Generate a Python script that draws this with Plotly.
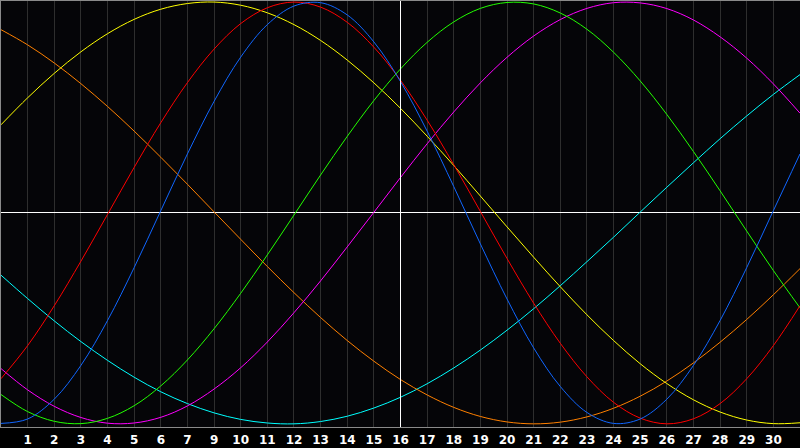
import plotly.graph_objects as go

days = list(range(0, 31))

# tick positions (day index) and their labels (note: original skips "8")
tick_days = list(range(1, 30))
tick_labels = ["1", "2", "3", "4", "5", "6", "7", "9", "10", "11", "12", "13", "14", "15",
               "16", "17", "18", "19", "20", "21", "22", "23", "24", "25", "26", "27", "28",
               "29", "30"]

# values in percent, one per day
cyan = [-29.5, -40.6, -51.2, -61.0, -69.9, -77.9, -84.8, -90.4, -94.8, -97.9, -99.6,
        -100.0, -98.9, -96.4, -92.5, -87.4, -81.0, -73.5, -65.0, -55.6, -45.4, -34.5,
        -23.1, -11.5, 0.4, 12.2, 23.8, 35.2, 46.0, 56.2, 65.6]
orange = [86.9, 79.7, 71.1, 61.3, 50.5, 38.8, 26.4, 13.6, 0.5, -12.5, -25.4, -37.8,
          -49.6, -60.5, -70.3, -79.0, -86.3, -92.2, -96.5, -99.1, -100.0, -99.2, -96.7,
          -92.6, -86.9, -79.7, -71.1, -61.3, -50.5, -38.8, -26.4]
magenta = [-73.8, -83.9, -91.7, -97.0, -99.7, -99.6, -96.9, -91.5, -83.5, -73.4, -61.2,
           -47.3, -32.2, -16.1, 0.3, 16.8, 32.8, 47.9, 61.7, 73.8, 83.9, 91.7, 97.0, 99.7,
           99.6, 96.9, 91.5, 83.5, 73.4, 61.2, 47.3]
yellow = [41.8, 54.6, 66.2, 76.4, 85.0, 91.8, 96.6, 99.3, 100.0, 98.5, 94.9, 89.3, 81.8,
          72.5, 61.7, 49.6, 36.4, 22.5, 8.0, -6.6, -21.0, -35.0, -48.3, -60.5, -71.5,
          -80.9, -88.6, -94.4, -98.2, -99.9, -99.5]
green = [-86.1, -94.2, -98.8, -99.9, -97.4, -91.4, -82.0, -69.7, -54.9, -38.1, -19.9,
         -1.0, 18.0, 36.3, 53.3, 68.3, 80.9, 90.6, 97.0, 99.8, 99.1, 94.8, 87.1, 76.2,
         62.6, 46.7, 29.1, 10.5, -8.6, -27.3, -45.0]
red = [-78.6, -62.9, -44.0, -22.9, -0.7, 21.6, 42.8, 61.8, 77.7, 89.8, 97.3, 100.0, 97.6,
       90.4, 78.6, 62.9, 44.0, 22.9, 0.7, -21.6, -42.8, -61.8, -77.7, -89.8, -97.3,
       -100.0, -97.6, -90.4, -78.6, -62.9, -44.0]
blue = [-99.8, -97.7, -88.3, -72.3, -51.0, -25.9, 1.1, 28.0, 52.9, 73.9, 89.3, 98.1,
        99.7, 93.9, 81.1, 62.3, 38.8, 12.5, -14.7, -40.8, -64.0, -82.3, -94.6, -99.8,
        -97.7, -88.3, -72.3, -51.0, -25.9, 1.1, 28.0]

series = [
    ("cyan", cyan, "#00ffff"),
    ("orange", orange, "#ff8000"),
    ("magenta", magenta, "#ff00ff"),
    ("yellow", yellow, "#ffff00"),
    ("green", green, "#22ff00"),
    ("red", red, "#ff0000"),
    ("blue", blue, "#1066ff"),
]

fig = go.Figure()
for name, vals, col in series:
    fig.add_trace(go.Scatter(x=days, y=vals, mode="lines", name=name,
                             line=dict(color=col, width=1, shape="spline", smoothing=1.0),
                             hoverinfo="skip"))

fig.add_shape(type="line", xref="x", yref="paper", x0=15, x1=15, y0=0, y1=1,
              line=dict(color="#ffffff", width=1))

fig.update_layout(
    width=800, height=448,
    margin=dict(l=1, r=0, t=1, b=21),
    paper_bgcolor="#000000",
    plot_bgcolor="#050508",
    showlegend=False,
    xaxis=dict(range=[0, 30], tickmode="array", tickvals=tick_days, ticktext=tick_labels,
               showgrid=True, gridcolor="#2e2e2e", gridwidth=1, zeroline=False,
               showline=True, linecolor="#8a8a8a", linewidth=1, mirror=True,
               ticks="", ticklabelstandoff=2,
               tickfont=dict(color="#ffffff", size=12, family="DejaVu Sans", weight="bold"),
               fixedrange=True),
    yaxis=dict(range=[-101.5, 100.5], showgrid=False, zeroline=True, zerolinecolor="#ffffff",
               zerolinewidth=1, showticklabels=False, ticks="", showline=True,
               linecolor="#8a8a8a", linewidth=1, mirror=False, fixedrange=True),
)

fig.write_html("out.html", config={"displayModeBar": False},
               post_script="document.body.style.margin='0';document.body.style.padding='0';")
